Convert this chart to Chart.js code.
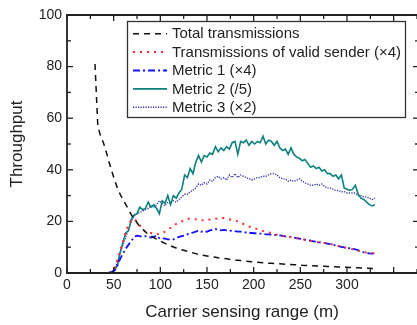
<!DOCTYPE html>
<html>
<head>
<meta charset="utf-8">
<script src="https://cdn.jsdelivr.net/npm/chart.js@4"></script>
<style>
html,body{margin:0;padding:0;background:#fff;}
#wrap{width:417px;height:325px;position:relative;}
</style>
</head>
<body>
<div id="wrap"><canvas id="c" width="417" height="325"></canvas></div>
<script>
// ---- data ----
const xs = [30,33,36,39,42,45,48,51,54,57,60,63,66,69,72,75,78,81,84,87,90,93,96,99,102,105,108,111,114,117,120,123,126,129,132,135,138,141,144,147,150,153,156,159,162,165,168,171,174,177,180,183,186,189,192,195,198,201,204,207,210,213,216,219,222,225,228,231,234,237,240,243,246,249,252,255,258,261,264,267,270,273,276,279,282,285,288,291,294,297,300,303,306,309,312,315,318,321,324,327,330];

const totalTx = [81,57,53,50.5,47,43,39.5,36,33,30.5,28.5,26.5,24.5,22.5,21,19.5,18,17,16,15,14.4,13.7,13.1,12.6,12,11.5,11,10.5,10.1,9.7,9.3,9,8.7,8.4,8.1,7.8,7.5,7.2,7,6.8,6.6,6.4,6.2,6.1,5.9,5.8,5.6,5.5,5.3,5.2,5,4.9,4.8,4.7,4.6,4.5,4.4,4.3,4.2,4.1,4,3.9,3.8,3.75,3.7,3.6,3.55,3.5,3.4,3.35,3.3,3.2,3.15,3.1,3,2.95,2.9,2.85,2.8,2.75,2.7,2.65,2.6,2.55,2.5,2.45,2.4,2.35,2.3,2.25,2.2,2.15,2.1,2.05,2,1.95,1.9,1.85,1.8,1.75,1.7];

const validSender = [0,0,0,0,0,0,0.5,2,5,9,12,16,19,20.5,21,20,18.5,17,16,15.5,15.5,15,15,15.2,15.5,16,17,17.5,18.5,19,19.5,20,20.5,21,21,21,20.8,20.5,20.5,20.3,20.5,20.7,21,21,21.2,21.3,21.3,21,20.8,20.5,20.3,20,19.5,19,18.5,18,17.7,17.3,17,16.7,16.3,16,15.7,15.4,15.1,14.8,14.6,14.4,14.2,14,13.9,13.7,13.5,13.3,13.1,12.9,12.7,12.5,12.3,12.1,11.9,11.8,11.6,11.4,11.2,11,10.7,10.4,10.1,9.9,9.7,9.5,9.2,8.9,8.7,8.4,8.1,7.9,7.8,7.7,7.7];

const metric1 = [0,0,0,0,0,0,0.3,1,3,5.5,7.5,9.5,11,12.5,14,14.5,14.3,14,14.3,14,13.7,14,14.5,13.5,13.5,13.3,13,13,13,13.5,14,14.3,14.5,15,15.3,15.7,16,16.5,16,16.3,16,16.5,16.8,17,16.8,16.5,16.7,16.5,16.3,16.5,16.2,16,16,15.8,15.7,15.5,15.5,15.4,15.3,15.3,15.2,15,15,14.9,14.8,14.7,14.6,14.4,14.2,14,13.9,13.7,13.5,13.3,13.1,12.9,12.7,12.5,12.3,12.1,11.9,11.8,11.6,11.4,11.2,11,10.7,10.4,10.1,9.9,9.7,9.6,9.4,9.2,8.8,8.3,8,7.8,7.6,7.5,7.6];

const metric2 = [0,0,0,0,0,0.2,0.5,1,3,8,12,15.5,16.5,21,22.5,23,25.5,24.5,25,27.5,25.5,26.5,25,23,28,27,30,26.5,30,29,31,32.5,38,37,40.5,38.5,43,45.5,43,45.5,45,46.5,46,49,47,48.5,47.5,49,48,50.5,51,46,51,50.5,51.5,49.5,51,50,51,50.5,53,50,51.5,51,49.5,51,48.5,47.5,48,46,48.5,46,45,44.5,43.5,44,42.5,41,41.5,40.5,41,39.5,40,38.5,38.5,37.5,38,36.5,38,33,32.5,32,32.5,34,30.5,29,28.5,27.5,26.5,26,26.5];

const metric3 = [0,0,0,0,0,0.2,0.5,1.5,4,8,11,14,17,20,22,23,23.5,24,24.5,25,26,25.5,26.5,28,27,26,27.5,27,28,27.5,28.5,29.5,30.5,30.5,31.5,32,33,34.5,34,35,34.5,36,35.5,37,37.5,36.5,37,36,38,37,38.5,37,38,37.5,37,36.5,36,36.5,37,37,37.5,37.5,38,38.5,38.5,38,37,36.5,36.5,35.5,36,35.5,36,36.5,35.5,35,34.5,34,34,34.5,34,34.5,33.5,33,33,32.5,32,32,31.5,31.5,31,31,31,31,30,30,29.5,29.5,29,28.5,29];

const seriesLabels = ['Total transmissions','Transmissions of valid sender (\u00d74)','Metric 1 (\u00d74)','Metric 2 (/5)','Metric 3 (\u00d72)'];
const xTitle = 'Carrier sensing range (m)';
const yTitle = 'Throughput';

// ---- styles ----
const FONT = "'Liberation Sans', Arial, sans-serif";
const styles = [
  {color:'#111111', dash:[6,5], width:1.5},
  {color:'#ff2a2a', dash:[2,5], width:2},
  {color:'#1010ff', dash:[7,3,2,3], width:1.8},
  {color:'#0e8080', dash:[], width:1.6},
  {color:'#3434a8', dash:[1.2,1.3], width:1.4}
];
const seriesData = [totalTx, validSender, metric1, metric2, metric3];

const datasets = seriesData.map((arr,i)=>({
  label: seriesLabels[i],
  data: arr.map((v,j)=>({x: xs[j], y: v})),
  borderColor: styles[i].color,
  borderDash: styles[i].dash,
  borderWidth: styles[i].width,
  pointRadius: 0,
  tension: 0,
  fill: false
}));

const framePlugin = {
  id: 'frame',
  afterDatasetsDraw(chart){
    const ctx = chart.ctx;
    const a = chart.chartArea;
    const xs_ = chart.scales.x, ys_ = chart.scales.y;
    const rightEdge = a.right + 2;
    ctx.save();
    ctx.strokeStyle = '#222';
    const tick = (x1,y1,x2,y2)=>{ctx.beginPath();ctx.moveTo(x1,y1);ctx.lineTo(x2,y2);ctx.stroke();};
    ctx.lineWidth = 1.3;
    for(let v=0; v<=375; v+=25){
      const px = xs_.getPixelForValue(v);
      const L = (v%50===0)?6:4;
      tick(px,a.bottom,px,a.bottom-L);
      tick(px,a.top,px,a.top+L);
    }
    for(let v=0; v<=100; v+=10){
      const py = ys_.getPixelForValue(v);
      const L = (v%20===0)?6:4;
      tick(a.left,py,a.left+L,py);
      tick(rightEdge,py,rightEdge-L,py);
    }
    ctx.lineWidth = 1.8;
    ctx.beginPath();
    ctx.moveTo(rightEdge, a.top);
    ctx.lineTo(a.left, a.top);
    ctx.lineTo(a.left, a.bottom);
    ctx.lineTo(rightEdge, a.bottom);
    ctx.stroke();
    // legend
    const bx=127.5, by=21.5, bw=278, bh=96;
    ctx.fillStyle='#fff';
    ctx.fillRect(bx,by,bw,bh);
    ctx.lineWidth=1.3;
    ctx.strokeStyle='#333';
    ctx.strokeRect(bx,by,bw,bh);
    ctx.font = '15px ' + FONT;
    ctx.textBaseline='middle';
    ctx.textAlign='left';
    chart.data.datasets.forEach((d,i)=>{
      const y = 33.7 + i*18.4;
      ctx.save();
      ctx.strokeStyle = d.borderColor;
      ctx.lineWidth = d.borderWidth;
      ctx.setLineDash(d.borderDash);
      ctx.beginPath(); ctx.moveTo(133,y); ctx.lineTo(167,y); ctx.stroke();
      ctx.restore();
      ctx.fillStyle='#222';
      ctx.fillText(d.label, 172, y+0.5);
    });
    ctx.restore();
  }
};

new Chart(document.getElementById('c'), {
  type: 'line',
  data: { datasets },
  options: {
    responsive: false,
    devicePixelRatio: 1,
    animation: false,
    layout: { padding: { top: 15, right: 0, left: 0, bottom: 0 } },
    plugins: { legend: { display: false }, tooltip: { enabled: false } },
    scales: {
      x: {
        type: 'linear', min: 0, max: 375,
        grid: { display: false, drawTicks: false },
        border: { display: false },
        ticks: { stepSize: 50, padding: 4, color: '#222', font: { family: FONT, size: 14 }, maxRotation: 0 },
        afterBuildTicks(s){ s.ticks = s.ticks.filter(t => t.value % 50 === 0); },
        afterFit(s){ s.height = 52; },
        title: { display: true, text: xTitle, color: '#222', font: { family: FONT, size: 17 }, padding: { top: 0, bottom: 2 } }
      },
      y: {
        type: 'linear', min: 0, max: 100,
        grid: { display: false, drawTicks: false },
        border: { display: false },
        ticks: { stepSize: 20, padding: 5, color: '#222', font: { family: FONT, size: 14 } },
        afterFit(s){ s.width = 67; },
        title: { display: true, text: yTitle, color: '#222', font: { family: FONT, size: 17 }, padding: { top: 7, bottom: 0 } }
      }
    }
  },
  plugins: [framePlugin]
});
</script>
</body>
</html>
